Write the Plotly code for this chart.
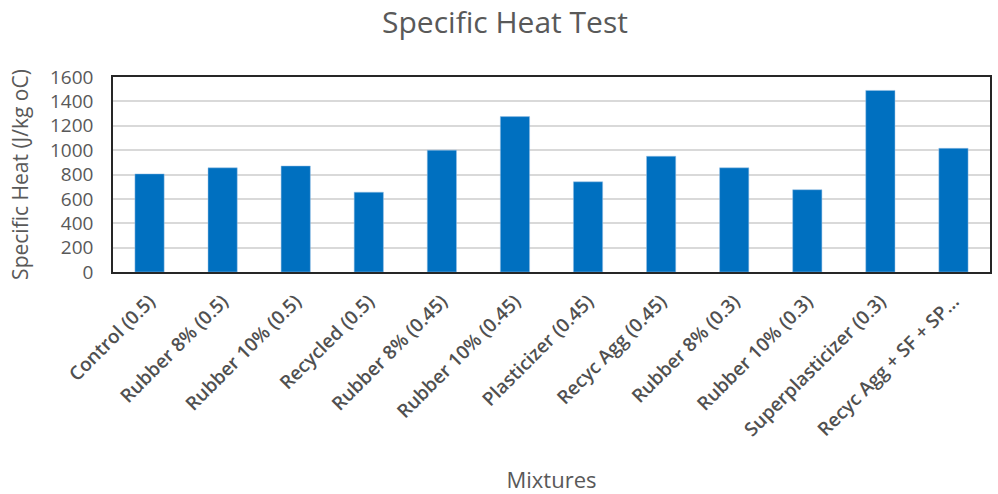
import plotly.graph_objects as go

mixtures = [
    "Control (0.5)", "Rubber 8% (0.5)", "Rubber 10% (0.5)", "Recycled (0.5)",
    "Rubber 8% (0.45)", "Rubber 10% (0.45)", "Plasticizer (0.45)", "Recyc Agg (0.45)",
    "Rubber 8% (0.3)", "Rubber 10% (0.3)", "Superplasticizer (0.3)", "Recyc Agg + SF + SP…",
]
specific_heat = [805, 855, 870, 655, 1000, 1275, 740, 950, 855, 675, 1490, 1015]
y_ticks = [0, 200, 400, 600, 800, 1000, 1200, 1400, 1600]

font_family = "Open Sans, Liberation Sans, sans-serif"
text_grey = "#595959"

fig = go.Figure(
    go.Bar(
        x=mixtures,
        y=specific_heat,
        marker=dict(color="#0070C0", line=dict(color="#9DC3E6", width=0.5)),
    )
)

fig.update_layout(
    width=998,
    height=494,
    margin=dict(l=113, r=8, t=77, b=222, autoexpand=False),
    paper_bgcolor="white",
    plot_bgcolor="white",
    bargap=0.6,
    showlegend=False,
    title=dict(
        text="Specific Heat Test",
        x=0.506, xanchor="center", y=0.955, yanchor="middle",
        font=dict(family=font_family, size=30, color=text_grey),
    ),
    font=dict(family=font_family, color=text_grey),
)

fig.update_xaxes(
    title=dict(text="Mixtures", font=dict(size=22, color=text_grey), standoff=40),
    tickangle=-45,
    tickfont=dict(size=19, color="#505050", weight=600),
    showline=True, linecolor="#262626", linewidth=1.5, mirror=True,
    ticks="outside", ticklen=9, tickcolor="rgba(0,0,0,0)",
    automargin=False,
)

fig.update_yaxes(
    title=dict(text="Specific Heat (J/kg oC)", font=dict(size=21, color=text_grey), standoff=16),
    range=[0, 1600],
    tickvals=y_ticks,
    tickfont=dict(size=19, color=text_grey),
    showgrid=True, gridcolor="#D9D9D9", gridwidth=1.5,
    showline=True, linecolor="#262626", linewidth=1.5, mirror=True,
    zeroline=False,
    ticks="outside", ticklen=14, tickcolor="rgba(0,0,0,0)",
    automargin=False,
)

fig.write_html("out.html")
